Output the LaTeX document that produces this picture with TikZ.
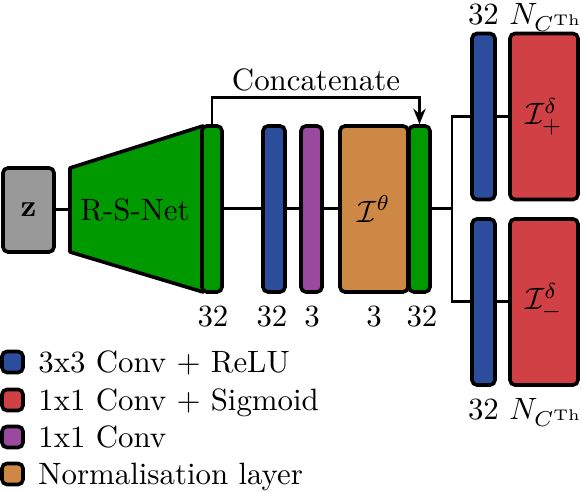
\documentclass[tikz,border=0pt]{standalone}
\usetikzlibrary{arrows.meta}
\definecolor{cblue}{HTML}{2C4C9C}
\definecolor{cred}{HTML}{D14045}
\definecolor{cpurple}{HTML}{9A4A9E}
\definecolor{corange}{HTML}{CC8844}
\definecolor{cgreen}{HTML}{009900}
\definecolor{cgray}{HTML}{999999}
\begin{document}
\begin{tikzpicture}[x=0.3240pt,y=-0.3240pt,line width=0.97pt,
  blk/.style={draw,line width=1.17pt,rounded corners=1.6pt,inner sep=0pt},
  bar/.style={blk,minimum width=#1*0.3240pt,minimum height=166*0.3240pt},
  lab/.style={anchor=base,inner sep=0pt},
  leg/.style={blk,minimum width=21*0.3240pt,minimum height=21*0.3240pt},
  legt/.style={anchor=base west,inner sep=0pt},
  conn/.style={line width=0.97pt}]
\useasboundingbox (0,0) rectangle (582,492);
% input
\node[blk,fill=cgray,minimum width=51*0.3240pt,minimum height=84*0.3240pt] (z) at (28.5,210) {$\mathbf{z}$};
% R-S-Net trapezoid
\coordinate (tl) at (70,168);
\coordinate (bl) at (70,252);
\coordinate (tr1) at (203,126);
\coordinate (br1) at (203,292);
\coordinate (tin) at (70,210);
\draw[line width=1.17pt,fill=cgreen,line join=round] (tl) -- (tr1) -- (br1) -- (bl) -- cycle;
\node (rsn) at (135,210) {R-S-Net};
% main column
\node[bar=20,fill=cgreen] (g1) at (212,209) {};
\node[bar=22,fill=cblue] (b1) at (274,209) {};
\node[bar=21,fill=cpurple] (p1) at (311.5,209) {};
\node[bar=68,fill=corange] (o1) at (374,209) {$\mathcal{I}^{\theta}$};
\node[bar=21,fill=cgreen] (g2) at (419.5,209) {};
% heads
\node[bar=23,fill=cblue] (tb) at (483.5,116.5) {};
\node[bar=68,fill=cred] (trd) at (544,116.5) {$\mathcal{I}^{\delta}_{+}$};
\node[bar=23,fill=cblue] (bb) at (483.5,302) {};
\node[bar=68,fill=cred] (brd) at (544,302) {$\mathcal{I}^{\delta}_{-}$};
% labels
\node[lab] (n1) at (213,327) {32};
\node[lab] (n2) at (272,327) {32};
\node[lab] (n3) at (312,327) {3};
\node[lab] (n4) at (374,327) {3};
\node[lab] (n5) at (422,327) {32};
\node[lab] (n6) at (483.5,25) {32};
\node[lab] (n7) at (546,25) {$N_{C^{\mathrm{Th}}}$};
\node[lab] (n8) at (483.5,420) {32};
\node[lab] (n9) at (546,420) {$N_{C^{\mathrm{Th}}}$};
\node[lab] (cat) at (316,91) {Concatenate};
% connectors
\draw[conn] (z.east) -- (tin);
\draw[conn] (g1.east) -- (b1.west);
\draw[conn] (b1.east) -- (p1.west);
\draw[conn] (p1.east) -- (o1.west);
\coordinate (br) at (452,209);
\draw[conn] (g2.east) -- (br);
\draw[conn] (br) |- (tb.west);
\draw[conn] (br) |- (bb.west);
\draw[conn] (tb.east) -- (trd.west);
\draw[conn] (bb.east) -- (brd.west);
\draw[conn,-{Stealth[length=5pt,width=4pt]}] (g1.north) -- ++(0,-27) -| (g2.north);
% legend
\node[leg,fill=cblue] (l1) at (12.5,362) {};
\node[leg,fill=cred] (l2) at (12.5,400) {};
\node[leg,fill=cpurple] (l3) at (12.5,437) {};
\node[leg,fill=corange] (l4) at (12.5,474) {};
\node[legt] (t1) at (37,373) {3x3 Conv + ReLU};
\node[legt] (t2) at (37,411) {1x1 Conv + Sigmoid};
\node[legt] (t3) at (37,448) {1x1 Conv};
\node[legt] (t4) at (37,485) {Normalisation layer};
\end{tikzpicture}
\end{document}
